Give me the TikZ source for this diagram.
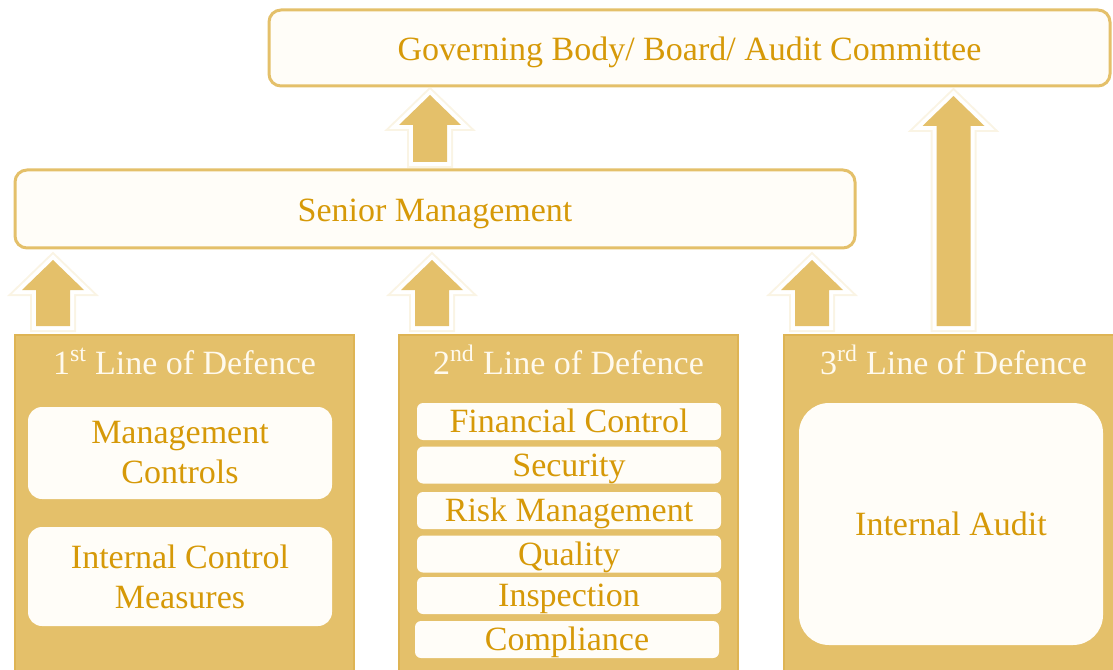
\documentclass[tikz,border=0pt]{standalone}
\usepackage{fontspec}
\setmainfont{Liberation Serif}
\usetikzlibrary{calc}

\definecolor{goldfill}{RGB}{228,192,106}
\definecolor{goldline}{RGB}{222,180,84}
\definecolor{goldtext}{RGB}{214,153,8}
\definecolor{creamfill}{RGB}{255,253,248}
\definecolor{titletext}{RGB}{255,250,238}

\tikzset{every picture/.style={line width=0.75pt}}
\tikzset{
  headbox/.style={draw=goldfill, line width=2.25pt, fill=creamfill, rounded corners=9pt, outer sep=0pt, inner sep=0pt, text=goldtext, font=\fontsize{25.5}{30}\selectfont, text height=22pt, text depth=2.5pt},
  defcol/.style={draw=goldline, line width=1.5pt, fill=goldfill, outer sep=0pt, minimum width=254.25pt, minimum height=258.75pt},
  deftitle/.style={text=titletext, font=\fontsize{25.5}{30}\selectfont, inner sep=0pt, anchor=base},
  ctrlbox/.style={fill=creamfill, rounded corners=10.5pt, outer sep=0pt, inner sep=0pt, text=goldtext, font=\fontsize{25.5}{30}\selectfont, align=center, minimum width=228pt},
  funcbox/.style={fill=creamfill, rounded corners=4.5pt, outer sep=0pt, inner sep=0pt, text=goldtext, font=\fontsize{25.5}{30}\selectfont, minimum width=228pt, minimum height=27.75pt, text height=22pt, text depth=5pt},
  liftarrow/.style={fill=goldfill, preaction={draw=goldfill!40, draw opacity=0.45, line width=9pt}, preaction={draw=white, line width=6pt}}
}
% block arrow from a tail point up to a tip point
\newcommand{\arrowoutline}[2]{($(#1)+(-17,0)$) -- ($(#2)+(-17,30)$) -- ($(#2)+(-31,30)$) -- (#2) -- ($(#2)+(31,30)$) -- ($(#2)+(17,30)$) -- ($(#1)+(17,0)$) -- cycle}

\begin{document}
\begin{tikzpicture}[x=0.75pt,y=0.75pt,yscale=-1,xscale=1]
	\useasboundingbox (0,0) rectangle (1113,670);
	\clip (0,0) rectangle (1113,670);

	%Shape: Rounded Rect [governing body]
	\node[headbox, minimum width=630.75pt, minimum height=57pt] (gov) at (689.5,48) {Governing Body/ Board/ Audit Committee};
	%Shape: Rounded Rect [senior management]
	\node[headbox, minimum width=630pt, minimum height=58.5pt] (senior) at (435,209) {Senior Management};

	%Shape: Rectangle [lines of defence]
	\node[defcol] (col1) at (184.5,507.5) {};
	\node[defcol] (col2) at (568.5,507.5) {};
	\node[defcol] (col3) at (953.5,507.5) {};

	% Text Node
	\node[deftitle] (t1) at ($(col1.north)+(0,39)$) {1\textsuperscript{st} Line of Defence};
	% Text Node
	\node[deftitle] (t2) at ($(col2.north)+(0,39)$) {2\textsuperscript{nd} Line of Defence};
	% Text Node
	\node[deftitle] (t3) at ($(col3.north)+(0,39)$) {3\textsuperscript{rd} Line of Defence};

	%Shape: Rounded Rect [1st line]
	\node[ctrlbox, minimum height=69pt] (mgmt) at (180,453) {Management\\Controls};
	\node[ctrlbox, minimum height=74.25pt] (icm) at (180,576.5) {Internal Control\\Measures};

	%Shape: Rounded Rect [2nd line]
	\node[funcbox] (fin) at (569,421.5) {Financial Control};
	\node[funcbox] (sec) at (569,465) {Security};
	\node[funcbox] (risk) at (569,510.5) {Risk Management};
	\node[funcbox] (qual) at (569,554) {Quality};
	\node[funcbox] (insp) at (569,595.5) {Inspection};
	\node[funcbox] (comp) at (567,639.5) {Compliance};

	%Shape: Rounded Rect [3rd line]
	\node[ctrlbox, rounded corners=22.5pt, minimum height=181.5pt] (audit) at (951,524) {Internal Audit};

	% arrow ends
	\path (senior.north) ++(-5,-8) coordinate (tail0);
	\path (tail0 |- gov.south) ++(0,9) coordinate (tip0);
	\path (col1.north west) ++(38,-9) coordinate (tail1);
	\path (tail1 |- senior.south) ++(0,12) coordinate (tip1);
	\path (col2.north west) ++(33,-9) coordinate (tail2);
	\path (tail2 |- senior.south) ++(0,12) coordinate (tip2);
	\path (col3.north west) ++(28,-9) coordinate (tail3);
	\path (tail3 |- senior.south) ++(0,12) coordinate (tip3);
	\path (col3.north) ++(0,-9) coordinate (tail4);
	\path (tail4 |- gov.south) ++(0,10) coordinate (tip4);

	%Shape: Up Arrow
	\path[liftarrow] \arrowoutline{tail0}{tip0};
	\path[liftarrow] \arrowoutline{tail1}{tip1};
	\path[liftarrow] \arrowoutline{tail2}{tip2};
	\path[liftarrow] \arrowoutline{tail3}{tip3};
	\path[liftarrow] \arrowoutline{tail4}{tip4};

\end{tikzpicture}
\end{document}
